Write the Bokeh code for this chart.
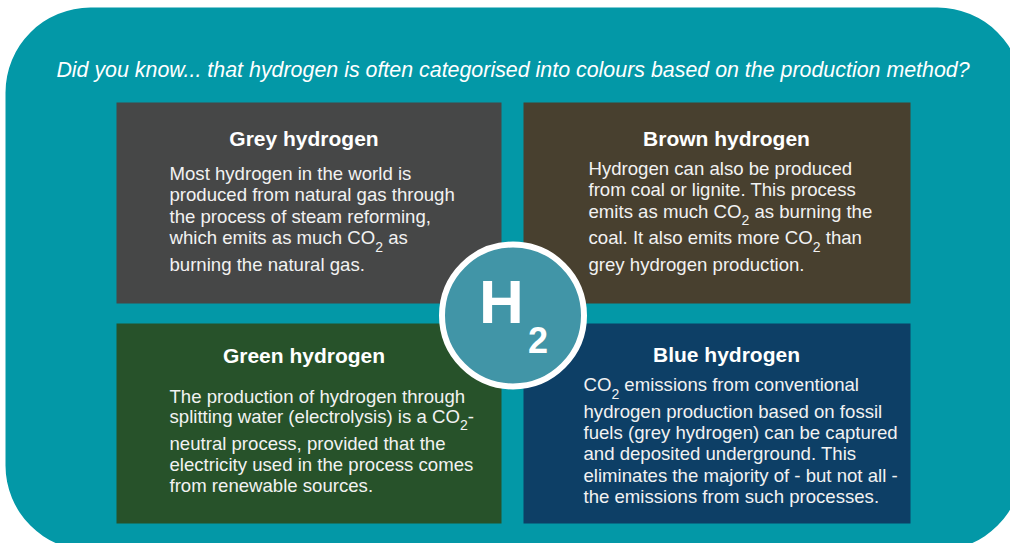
from bokeh.plotting import figure
from bokeh.models import Range1d, ColumnDataSource
from bokeh.embed import file_html
from bokeh.resources import INLINE
from bokeh.core.properties import value

# ---------------- content ----------------
heading = "Did you know... that hydrogen is often categorised into colours based on the production method?"

titles = ["Grey hydrogen", "Brown hydrogen", "Green hydrogen", "Blue hydrogen"]
box_colors = ["#464747", "#48402F", "#27522A", "#0D3F66"]

# "_2" marks a subscript 2 (CO2)
grey_lines = ["Most hydrogen in the world is",
              "produced from natural gas through",
              "the process of steam reforming,",
              "which emits as much CO_2 as",
              "burning the natural gas."]
brown_lines = ["Hydrogen can also be produced",
               "from coal or lignite. This process",
               "emits as much CO_2 as burning the",
               "coal. It also emits more CO_2 than",
               "grey hydrogen production."]
green_lines = ["The production of hydrogen through",
               "splitting water (electrolysis) is a CO_2-",
               "neutral process, provided that the",
               "electricity used in the process comes",
               "from renewable sources."]
blue_lines = ["CO_2 emissions from conventional",
              "hydrogen production based on fossil",
              "fuels (grey hydrogen) can be captured",
              "and deposited underground. This",
              "eliminates the majority of - but not all -",
              "the emissions from such processes."]
body_lines = [grey_lines, brown_lines, green_lines, blue_lines]

# ---------------- layout (screen pixels) ----------------
W, H = 1010, 543

def Y(sy):
    return H - sy

# the svg text baseline sits ~0.355 em lower than requested; compensate
BASE_FIX = 0.355

def YT(baseline, size):
    return Y(baseline - BASE_FIX * size)

box_left = [116, 523, 116, 523]
box_right = [501, 910, 501, 910]
box_top = [102, 102, 323, 323]
box_bottom = [303, 303, 523, 523]
title_x = [303.5, 726, 303.5, 726]
title_base = [145, 145, 362, 361]
body_x = [169, 588, 169, 583]
body_base = [[180, 201, 222.5, 244, 270.5],
             [175, 196, 217.5, 244, 270.5],
             [402.5, 422.5, 449.5, 471, 491.5],
             [391, 417.5, 438.5, 460, 481.5, 502.5]]

BODY_SIZE = 18.6
SUB_SIZE = 14
SUB_DROP = 7
TITLE_SIZE = 21
HEAD_SIZE = 21.4
H_SIZE = 62
H2_SIZE = 36
FONT = "Liberation Sans"
TEAL = "#0398A7"
CIRCLE = "#4195A7"

# Arial / Liberation Sans advance widths (per 1000 em)
AW = {' ': 278, '!': 278, '(': 333, ')': 333, ',': 278, '-': 333, '.': 278, '?': 556,
      'A': 667, 'B': 667, 'C': 722, 'D': 722, 'E': 667, 'F': 611, 'G': 778, 'H': 722,
      'I': 278, 'J': 500, 'K': 667, 'L': 556, 'M': 833, 'N': 722, 'O': 778, 'P': 667,
      'Q': 778, 'R': 722, 'S': 667, 'T': 611, 'U': 722, 'V': 667, 'W': 944, 'X': 667,
      'Y': 667, 'Z': 611,
      'a': 556, 'b': 556, 'c': 500, 'd': 556, 'e': 556, 'f': 278, 'g': 556, 'h': 556,
      'i': 222, 'j': 222, 'k': 500, 'l': 222, 'm': 833, 'n': 556, 'o': 556, 'p': 556,
      'q': 556, 'r': 333, 's': 500, 't': 278, 'u': 556, 'v': 500, 'w': 722, 'x': 500,
      'y': 500, 'z': 500}

def tw(s, size):
    return sum(AW.get(c, 556) for c in s) / 1000.0 * size

# ---------------- figure ----------------
p = figure(width=W, height=H, output_backend="svg", toolbar_location=None,
           x_range=Range1d(0, W), y_range=Range1d(0, H),
           x_axis_type=None, y_axis_type=None, min_border=0)
p.grid.visible = False
p.outline_line_color = None
p.background_fill_color = "white"
p.border_fill_color = "white"

# teal rounded panel
p.quad(left=[5], right=[1022], top=[Y(7)], bottom=[Y(550)],
       fill_color=TEAL, line_color=None, border_radius=85)

# four coloured boxes
p.quad(left=box_left, right=box_right, top=[Y(v) for v in box_top],
       bottom=[Y(v) for v in box_bottom], fill_color=box_colors, line_color=None)

# heading
p.text(x=[512.5], y=[YT(77, HEAD_SIZE)], text=[heading], text_font=value(FONT),
       text_font_style="italic", text_font_size=f"{HEAD_SIZE}px",
       text_color="white", text_align="center", text_baseline="alphabetic")

# titles
p.text(x=title_x, y=[YT(v, TITLE_SIZE) for v in title_base], text=titles,
       text_font=value(FONT), text_font_style="bold", text_font_size=f"{TITLE_SIZE}px",
       text_color="white", text_align="center", text_baseline="alphabetic")

# body text with subscripts
bx, by, bt, sx, sy, st = [], [], [], [], [], []
for lines, x0, bases in zip(body_lines, body_x, body_base):
    for line, b in zip(lines, bases):
        parts = line.split("_2")
        x = x0
        for i, part in enumerate(parts):
            stripped = part.lstrip(" ")
            x += tw(part[:len(part) - len(stripped)], BODY_SIZE)
            if stripped:
                bx.append(x); by.append(YT(b, BODY_SIZE)); bt.append(stripped)
                x += tw(stripped, BODY_SIZE)
            if i < len(parts) - 1:
                sx.append(x); sy.append(YT(b + SUB_DROP, SUB_SIZE)); st.append("2")
                x += tw("2", SUB_SIZE)

p.text(x="x", y="y", text="t", source=ColumnDataSource(dict(x=bx, y=by, t=bt)),
       text_font=value(FONT), text_font_size=f"{BODY_SIZE}px", text_color="#F2F2F2",
       text_align="left", text_baseline="alphabetic")
p.text(x="x", y="y", text="t", source=ColumnDataSource(dict(x=sx, y=sy, t=st)),
       text_font=value(FONT), text_font_size=f"{SUB_SIZE}px", text_color="#F2F2F2",
       text_align="left", text_baseline="alphabetic")

# H2 badge
p.circle(x=[512.5], y=[Y(315)], radius=71, fill_color=CIRCLE,
         line_color="white", line_width=6)
p.text(x=[501], y=[YT(323, H_SIZE)], text=["H"], text_font=value(FONT),
       text_font_style="bold", text_font_size=f"{H_SIZE}px", text_color="white",
       text_align="center", text_baseline="alphabetic")
p.text(x=[537.5], y=[YT(352, H2_SIZE)], text=["2"], text_font=value(FONT),
       text_font_style="bold", text_font_size=f"{H2_SIZE}px", text_color="white",
       text_align="center", text_baseline="alphabetic")

open("out.html", "w").write(file_html(p, INLINE))
